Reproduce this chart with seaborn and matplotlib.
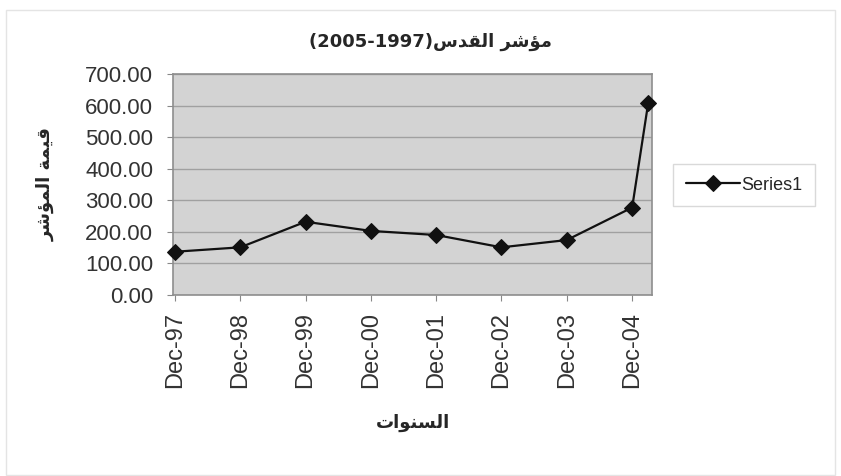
import pandas as pd
import seaborn as sns
from matplotlib import pyplot as plt
from matplotlib.patches import Rectangle

# Al-Quds index values
dates = ['1997-12-31', '1998-12-31', '1999-12-31', '2000-12-31', '2001-12-31',
         '2002-12-31', '2003-12-31', '2004-12-31', '2005-03-31']
values = [137, 151, 232, 203, 190, 151, 174, 277, 609]
tick_dates = dates[:8]
tick_labels = ['Dec-97', 'Dec-98', 'Dec-99', 'Dec-00', 'Dec-01', 'Dec-02', 'Dec-03', 'Dec-04']
y_ticks = [0, 100, 200, 300, 400, 500, 600, 700]
series_name = 'Series1'

# Arabic text in presentation forms, visual order (matplotlib does no shaping)
title_text = '(2005-1997)\ufeb1\ufeaa\ufed8\ufedf\ufe8d \ufeae\ufeb7\ufe86\ufee3'  # مؤشر القدس(1997-2005)
ylabel_text = '\ufeae\ufeb7\ufe86\ufee4\ufedf\ufe8d \ufe94\ufee4\ufef4\ufed7'  # قيمة المؤشر
xlabel_text = '\ufe95\ufe8d\ufeee\ufee8\ufeb4\ufedf\ufe8d'  # السنوات

df = pd.DataFrame({'date': pd.to_datetime(dates), 'value': values})

sns.set_style('white')
plt.rcParams['font.family'] = ['Liberation Sans', 'DejaVu Sans']

W, H = 841, 476
fig = plt.figure(figsize=(W / 100, H / 100), dpi=100)
fig.patches.append(Rectangle((6 / W, 1 - 475 / H), 829 / W, 465 / H, transform=fig.transFigure,
                             fill=False, edgecolor='#e4e4e4', linewidth=1))

ax = fig.add_axes([172.7 / W, 1 - 295 / H, (652 - 172.7) / W, (295 - 74) / H])
ax.set_facecolor('#d3d3d3')

sns.lineplot(data=df, x='date', y='value', ax=ax, color='#111111', linewidth=1.6,
             marker='D', markersize=8, markeredgecolor='#111111', label=series_name,
             legend=False, clip_on=False, zorder=5)

ax.set_ylim(0, 700)
ax.set_yticks(y_ticks)
ax.set_yticklabels([f'{v:.2f}' for v in y_ticks], fontsize=16, color='#333333')
ax.set_xlim(pd.Timestamp('1997-12-18'), pd.Timestamp('2005-04-21'))
ax.set_xticks(pd.to_datetime(tick_dates))
ax.set_xticklabels(tick_labels, rotation=90, fontsize=17, color='#333333')
ax.yaxis.grid(True, color='#a0a0a0', linewidth=1)
ax.xaxis.grid(False)
ax.tick_params(axis='both', length=4, color='#888888', bottom=True, left=True)
ax.tick_params(axis='y', pad=10)
ax.tick_params(axis='x', pad=8)
for s in ax.spines.values():
    s.set_color('#8e8e8e')
    s.set_linewidth(1.2)
ax.set_xlabel('')
ax.set_ylabel('')

fig.text(430 / W, 1 - 42 / H, title_text, ha='center', va='center', fontsize=13,
         fontweight='bold', family=['DejaVu Sans'])
fig.text(46 / W, 1 - 184 / H, ylabel_text, ha='center', va='center', rotation=90,
         fontsize=13, fontweight='bold', family=['DejaVu Sans'])
fig.text(413 / W, 1 - 423 / H, xlabel_text, ha='center', va='center', fontsize=13,
         fontweight='bold', family=['DejaVu Sans'])

handles, labels = ax.get_legend_handles_labels()
leg = fig.legend(handles, labels, loc='center left', bbox_to_anchor=(673 / W, 1 - 185 / H),
                 fontsize=13, frameon=True, fancybox=False, handlelength=3.0,
                 borderpad=0.7, handletextpad=0.1, borderaxespad=0)
leg.get_frame().set_edgecolor('#d0d0d0')
leg.get_frame().set_linewidth(1)

fig.savefig('out.png', dpi=100)
